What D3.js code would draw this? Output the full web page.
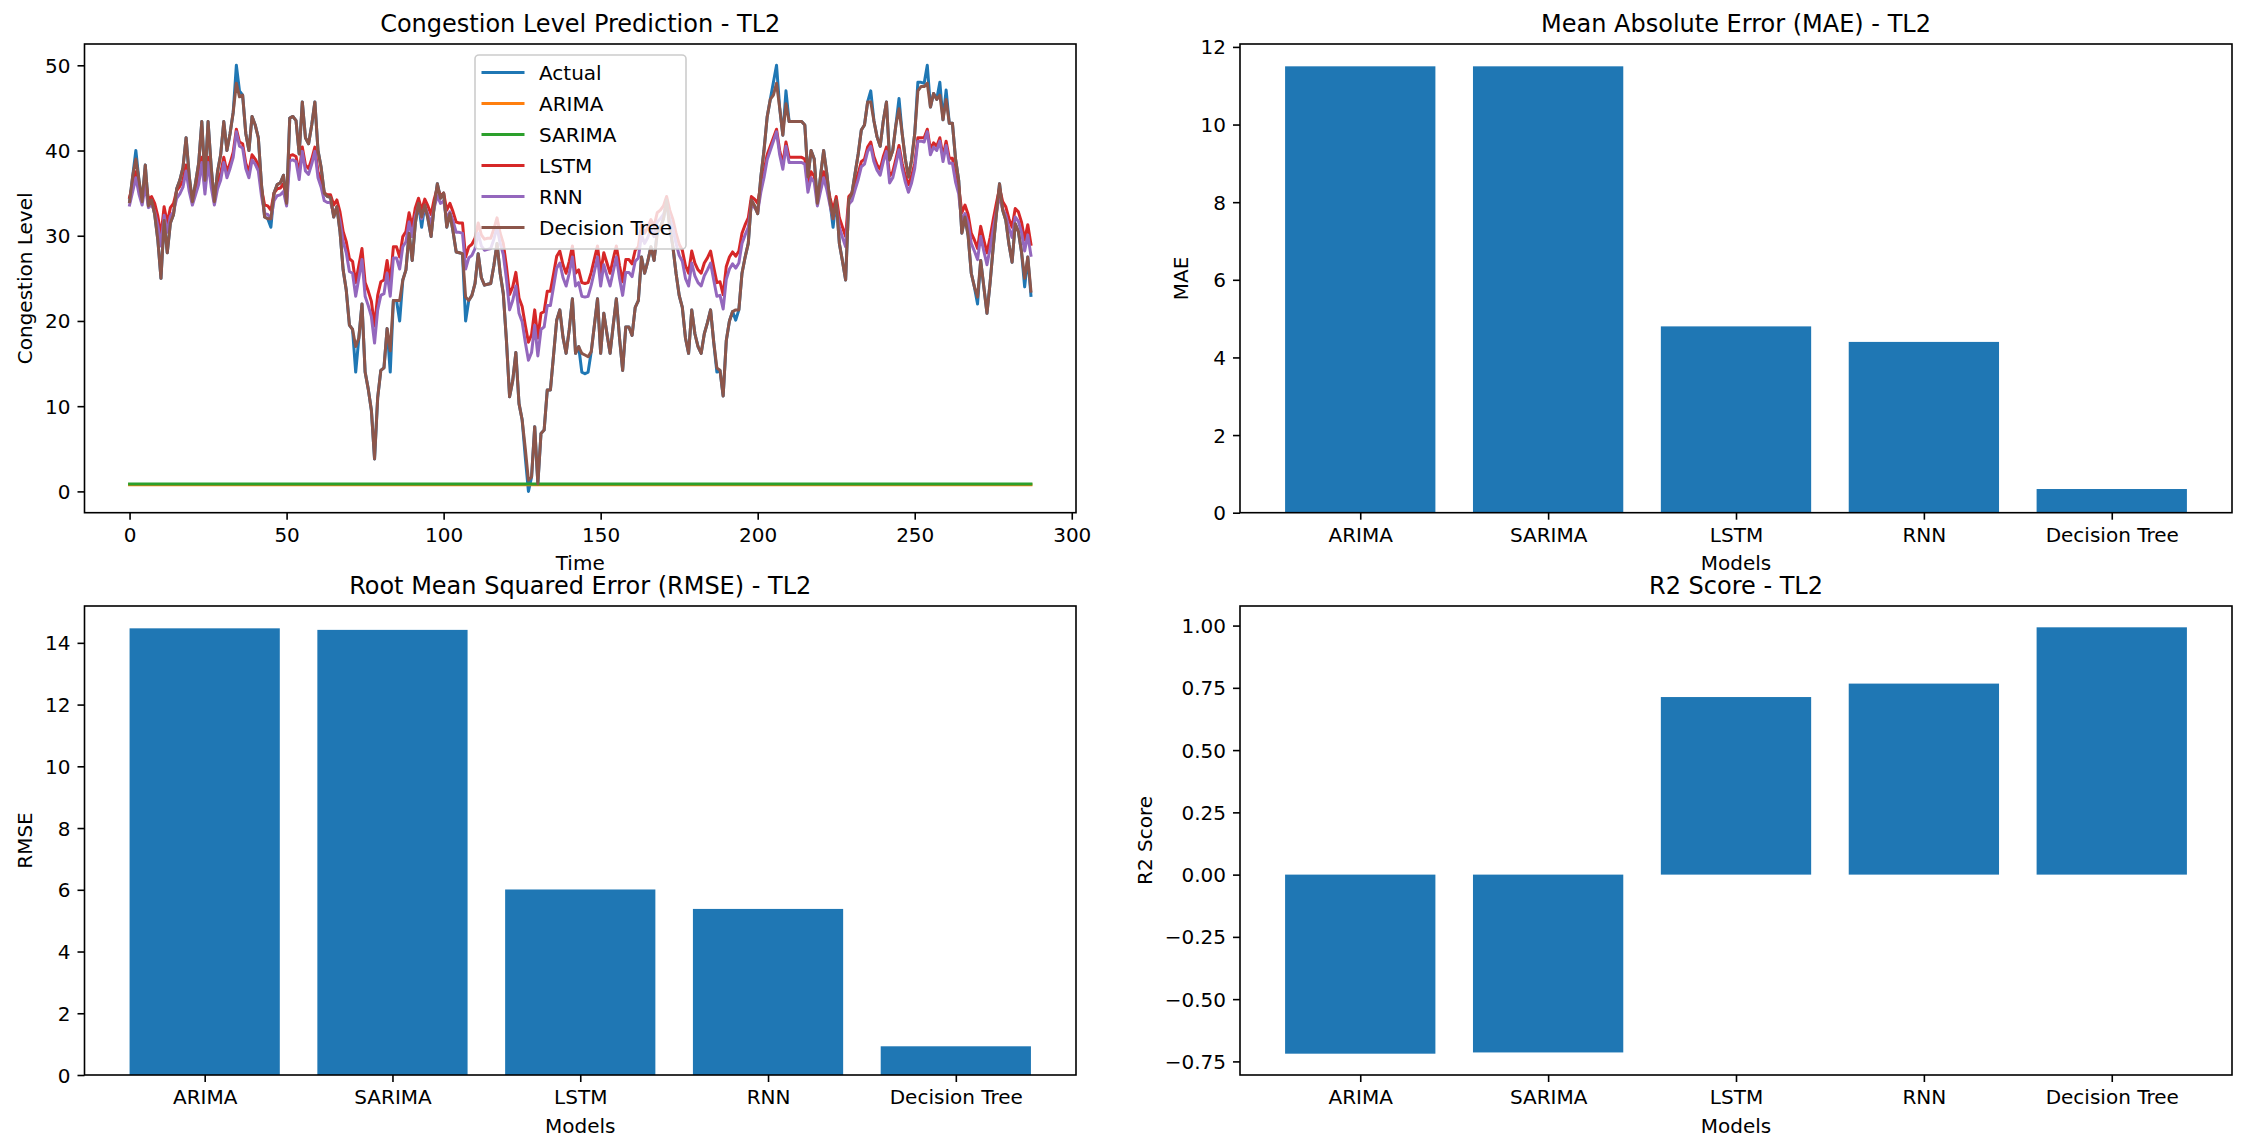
<!DOCTYPE html>
<html><head><meta charset="utf-8">
<script src="https://cdn.jsdelivr.net/npm/d3@7/dist/d3.min.js"></script>
<style>body{margin:0;background:#fff}svg{display:block}text{font-family:"DejaVu Sans",sans-serif;fill:#000}</style>
</head><body><svg id="c" width="2246" height="1148"></svg>
<script>
// ---------------- DATA ----------------
const seriesNames = ["Actual","ARIMA","SARIMA","LSTM","RNN","Decision Tree"];
const seriesColors = ["#1f77b4","#ff7f0e","#2ca02c","#d62728","#9467bd","#8c564b"];
const models = ["ARIMA","SARIMA","LSTM","RNN","Decision Tree"];

const actual = [34,37,40,36.5,34,38.3,33.5,34.2,32.5,29.5,
25,31.8,28,31.5,32.5,35.5,36.5,38,41.5,37,
34,36.2,38.5,43.4,36.5,43.4,38,34,37.5,39.5,
43.4,40,42,44.5,50,47,46.5,42,40,44,
43,41.5,36,32.2,32,31,35,36,36.2,37.1,
33.8,43.8,44,43.5,39.6,45.7,41.5,40.8,43,45.7,
40,38,35,34.6,34.5,32.2,33.4,30.5,26,23.6,
19.5,19,14,18,22,14,12,9.5,3.8,11,
14.2,14.5,19.1,14,22.4,22.4,20,24.8,26,30.3,
27.1,31.5,33.8,31,33.6,32,29.9,33.5,36.1,34.4,
35,31,32.6,30.5,28.1,28,27.9,20,22.4,23,
24.4,27.9,25.1,24.2,24.3,24.4,26.5,29.1,25.6,23.2,
17.7,11.1,13,16.3,10.3,8.4,4,0,1.7,7.6,
0.9,6.8,7.2,11.9,11.9,16,20.1,21.3,18.1,16.2,
19,22.6,16.2,17,14,13.8,14,16.4,19.5,22.6,
16.2,20.9,18.5,16.2,19.5,22.6,18,14.2,19.3,19.3,
18.3,21.6,22.4,27.5,25.6,27,28.7,27.1,30.3,31,
32,34.2,31,28.7,25.6,23,21.6,18,16.2,21.3,
18.5,17,16.2,18.5,19.8,21.3,17.5,14,14.2,11.2,
17.7,20,21.1,20.1,21.3,25.6,27.5,29.1,34.2,33.5,
32.6,36.9,40,43.9,46,48,50,45,41.8,47,
43.4,43.4,43.4,43.4,43.4,43,36.9,40,39,33.8,
37,40,37.3,34,31,34.2,29.1,27,24.8,34.2,
35,37.3,39.6,42.4,43,45.7,47,43.5,41.6,40.5,
43.5,45.7,38.9,40,43,46.1,42,39,36.9,38.9,
42,48,48,47.9,50,45.1,46.7,46,48,43.6,
47.1,43.2,43.2,39,36.5,30.3,32.2,30,25.6,24,
22,27.1,24,20.9,24.5,28.7,32.5,36.1,33,31.8,
29,26.9,31.4,30.5,28.1,24,27.5,23];

const decisionTree = [34,37,39,36.5,34,38.3,33.5,34.2,32.5,29.5,
25,31.8,28,31.5,32.5,35.5,36.5,38,41.5,37,
34,36.2,38.5,43.4,36.5,43.4,38,34,37.5,39.5,
43.4,40,42,44.5,47.9,46.3,46.5,42,40,44,
43,41.5,36,32.2,32,32,35,36,36.2,37.1,
33.8,43.8,44,43.5,39.6,45.7,41.5,40.8,43,45.7,
40,38,35,34.6,34.5,32.2,33.4,30.5,26,23.6,
19.5,19,17,18,22,14,12,9.5,3.8,11,
14.2,14.5,19.1,16.5,22.4,22.4,22.4,24.8,26,30.3,
27.1,31.5,33.8,32.2,33.6,32,29.9,33.5,36.1,34.4,
35,31,32.6,30.5,28.1,28,27.9,22.8,22.4,23,
24.4,27.9,25.1,24.2,24.3,24.4,26.5,29.1,25.6,23.2,
17.7,11.1,13,16.3,10.3,8.4,5,1.3,1.7,7.6,
0.9,6.8,7.2,11.9,11.9,16,20.1,21.3,18.1,16.2,
19,22.6,16.2,17,16.2,16,15.8,16.4,19.5,22.6,
16.2,20.9,18.5,16.2,19.5,22.6,18,14.2,19.3,19.3,
18.3,21.6,22.4,27.5,25.6,27,28.7,27.1,30.3,31,
32,34.2,31,28.7,25.6,23,21.6,18,16.2,21.3,
18.5,17,16.2,18.5,19.8,21.3,17.5,14.5,14.2,11.2,
17.7,20,21.1,21.3,21.3,25.6,27.5,29.1,34.2,33.5,
32.6,36.9,40,43.9,46,46.5,47.9,45,41.8,45.5,
43.4,43.4,43.4,43.4,43.4,43,36.9,40,39,33.8,
37,40,37.3,34,32,34.2,29.1,27,24.8,34.2,
35,37.3,39.6,42.4,43,45.7,45.7,43.5,41.6,40.5,
43.5,45.7,38.9,40,43,44.9,42,39,36.9,38.9,
42,47,47.5,47.5,47.9,45.1,46.7,46,46.5,43.6,
46,43.2,43.2,39,36.5,30.3,32.2,30,25.6,24,
22.8,27.1,24,20.9,24.5,28.7,32.5,36.1,33,31.8,
29,26.9,31.4,30.5,28.1,25,27.5,23.5];

const lstm = [34.5,36.0,37.5,35.8,34.5,36.7,34.3,34.6,33.8,32.3,
30.0,33.4,31.5,33.3,33.8,35.3,35.8,36.5,38.3,36.0,
34.5,35.6,36.8,39.2,35.8,39.2,36.5,34.5,36.3,37.3,
39.2,37.5,38.5,39.8,42.5,41.0,40.8,38.5,37.5,39.5,
39.0,38.3,35.5,33.6,33.5,33.0,35.0,35.5,35.6,36.1,
34.4,39.4,39.5,39.3,37.3,40.4,38.3,37.9,39.0,40.4,
37.5,36.5,35.0,34.8,34.8,33.6,34.2,32.8,30.5,29.3,
27.3,27.0,24.5,26.5,28.5,24.5,23.5,22.3,19.4,23.0,
24.6,24.8,27.1,24.5,28.7,28.7,27.5,29.9,30.5,32.7,
31.1,33.3,34.4,33.0,34.3,33.5,32.5,34.3,35.6,34.7,
35.0,33.0,33.8,32.8,31.6,31.5,31.5,27.5,28.7,29.0,
29.7,31.5,30.1,29.6,29.7,29.7,30.8,32.1,30.3,29.1,
26.4,23.1,24.0,25.7,22.7,21.7,19.5,17.5,18.4,21.3,
18.0,20.9,21.1,23.5,23.5,25.5,27.6,28.2,26.6,25.6,
27.0,28.8,25.6,26.0,24.5,24.4,24.5,25.7,27.3,28.8,
25.6,28.0,26.8,25.6,27.3,28.8,26.5,24.6,27.2,27.2,
26.7,28.3,28.7,31.3,30.3,31.0,31.9,31.1,32.7,33.0,
33.5,34.6,33.0,31.9,30.3,29.0,28.3,26.5,25.6,28.2,
26.8,26.0,25.6,26.8,27.4,28.2,26.3,24.5,24.6,23.1,
26.4,27.5,28.1,27.6,28.2,30.3,31.3,32.1,34.6,34.3,
33.8,36.0,37.5,39.5,40.5,41.5,42.5,40.0,38.4,41.0,
39.2,39.2,39.2,39.2,39.2,39.0,36.0,37.5,37.0,34.4,
36.0,37.5,36.2,34.5,33.0,34.6,32.1,31.0,29.9,34.6,
35.0,36.2,37.3,38.7,39.0,40.4,41.0,39.3,38.3,37.8,
39.3,40.4,37.0,37.5,39.0,40.6,38.5,37.0,36.0,37.0,
38.5,41.5,41.5,41.5,42.5,40.1,40.9,40.5,41.5,39.3,
41.1,39.1,39.1,37.0,35.8,32.7,33.6,32.5,30.3,29.5,
28.5,31.1,29.5,28.0,29.8,31.9,33.8,35.6,34.0,33.4,
32.0,31.0,33.2,32.8,31.6,29.5,31.3,29.0];

const rnn = [33.6,35.2,36.8,34.9,33.6,35.9,33.3,33.7,32.8,31.2,
28.8,32.4,30.4,32.3,32.8,34.4,34.9,35.7,37.6,35.2,
33.6,34.8,36.0,38.6,34.9,38.6,35.7,33.6,35.5,36.5,
38.6,36.8,37.9,39.2,42.2,40.5,40.3,37.9,36.8,38.9,
38.4,37.6,34.7,32.6,32.5,32.0,34.1,34.7,34.8,35.2,
33.5,38.8,38.9,38.7,36.6,39.9,37.6,37.2,38.4,39.9,
36.8,35.7,34.1,33.9,33.9,32.6,33.3,31.7,29.3,28.0,
25.8,25.6,22.9,25.0,27.2,22.9,21.8,20.5,17.4,21.3,
23.0,23.2,25.6,22.9,27.4,27.4,26.1,28.7,29.3,31.6,
29.9,32.3,33.5,32.0,33.4,32.5,31.4,33.3,34.7,33.8,
34.1,32.0,32.8,31.7,30.4,30.4,30.3,26.1,27.4,27.7,
28.5,30.3,28.8,28.3,28.4,28.5,29.6,31.0,29.1,27.8,
24.9,21.3,22.4,24.1,20.9,19.9,17.5,15.4,16.3,19.5,
15.9,19.0,19.3,21.8,21.8,24.0,26.2,26.8,25.1,24.1,
25.6,27.5,24.1,24.5,22.9,22.8,22.9,24.2,25.8,27.5,
24.1,26.6,25.3,24.1,25.8,27.5,25.0,23.0,25.7,25.7,
25.2,27.0,27.4,30.1,29.1,29.8,30.8,29.9,31.6,32.0,
32.5,33.7,32.0,30.8,29.1,27.7,27.0,25.0,24.1,26.8,
25.3,24.5,24.1,25.3,26.0,26.8,24.8,22.9,23.0,21.4,
24.9,26.1,26.7,26.2,26.8,29.1,30.1,31.0,33.7,33.3,
32.8,35.1,36.8,38.9,40.0,41.1,42.2,39.5,37.8,40.5,
38.6,38.6,38.6,38.6,38.6,38.4,35.1,36.8,36.3,33.5,
35.2,36.8,35.4,33.6,32.0,33.7,31.0,29.8,28.7,33.7,
34.1,35.4,36.6,38.1,38.4,39.9,40.5,38.7,37.7,37.1,
38.7,39.9,36.2,36.8,38.4,40.1,37.9,36.3,35.1,36.2,
37.9,41.1,41.1,41.0,42.2,39.5,40.4,40.0,41.1,38.7,
40.6,38.5,38.5,36.3,34.9,31.6,32.6,31.5,29.1,28.2,
27.2,29.9,28.2,26.6,28.5,30.8,32.8,34.7,33.1,32.4,
30.9,29.8,32.2,31.7,30.4,28.2,30.1,27.7];

// ARIMA and SARIMA forecasts are flat lines in the picture
const arimaLevel = 0.78;
const sarimaLevel = 0.86;
const arima = new Array(actual.length).fill(arimaLevel);
const sarima = new Array(actual.length).fill(sarimaLevel);

const maeValues  = [11.5, 11.5, 4.8, 4.4, 0.61];
const rmseValues = [14.47, 14.42, 6.01, 5.38, 0.93];
const r2Values   = [-0.719, -0.714, 0.713, 0.767, 0.993];

const timeTicks = [0,50,100,150,200,250,300];
const congTicks = [0,10,20,30,40,50];
const maeTicks  = [0,2,4,6,8,10,12];
const rmseTicks = [0,2,4,6,8,10,12,14];
const r2Ticks   = [-0.75,-0.5,-0.25,0,0.25,0.5,0.75,1.0];

// ---------------- LAYOUT ----------------
const FONT = '"DejaVu Sans", sans-serif';
const svg = d3.select("#c");
svg.append("rect").attr("width",2246).attr("height",1148).attr("fill","#fff");

const P1 = {l:84.5, r:1076, t:44, b:512.7};
const P2 = {l:1240, r:2232, t:44, b:512.7};
const P3 = {l:84.5, r:1076, t:606, b:1075};
const P4 = {l:1240, r:2232, t:606, b:1075};

function drawAxes(p, x, y, xTicks, xFmt, yTicks, yFmt, title, xlabel, ylabel) {
  const gx = svg.append("g").attr("transform", `translate(0,${p.b})`)
    .call(d3.axisBottom(x).tickValues(xTicks).tickFormat(xFmt).tickSize(7).tickPadding(7).tickSizeOuter(0));
  gx.select(".domain").remove();
  gx.selectAll(".tick line").attr("stroke","#000").attr("stroke-width",1.6);
  gx.selectAll(".tick text").attr("font-size",20).attr("font-family",FONT).attr("fill","#000")
    .attr("y",14).attr("dy",15.3);
  const gy = svg.append("g").attr("transform", `translate(${p.l},0)`)
    .call(d3.axisLeft(y).tickValues(yTicks).tickFormat(yFmt).tickSize(7).tickPadding(7).tickSizeOuter(0));
  gy.select(".domain").remove();
  gy.selectAll(".tick line").attr("stroke","#000").attr("stroke-width",1.6);
  gy.selectAll(".tick text").attr("font-size",20).attr("font-family",FONT).attr("fill","#000")
    .attr("x",-14).attr("dy",7);
  const maxW = d3.max(gy.selectAll(".tick text").nodes(), n => n.getComputedTextLength());
  // frame
  svg.append("rect").attr("x",p.l).attr("y",p.t).attr("width",p.r-p.l).attr("height",p.b-p.t)
    .attr("fill","none").attr("stroke","#000").attr("stroke-width",1.6);
  // title
  svg.append("text").attr("x",(p.l+p.r)/2).attr("y",p.t-12).attr("text-anchor","middle")
    .attr("font-size",24).text(title);
  // x label
  svg.append("text").attr("x",(p.l+p.r)/2).attr("y",p.b+57.5).attr("text-anchor","middle")
    .attr("font-size",20).text(xlabel);
  // y label
  const bx = p.l - 14 - maxW - 8 - 4.7;
  svg.append("text").attr("transform",`translate(${bx},${(p.t+p.b)/2}) rotate(-90)`)
    .attr("text-anchor","middle").attr("font-size",20).text(ylabel);
}

// ---------- Panel 1: line chart ----------
{
  const n = actual.length;
  const x = d3.scaleLinear().domain([-(n-1)*0.05, (n-1)*1.05]).range([P1.l, P1.r]);
  const yMin = d3.min([d3.min(actual), d3.min(arima), d3.min(sarima), d3.min(lstm), d3.min(rnn), d3.min(decisionTree)]);
  const yMax = d3.max([d3.max(actual), d3.max(lstm), d3.max(rnn), d3.max(decisionTree)]);
  const pad = (yMax-yMin)*0.05;
  const y = d3.scaleLinear().domain([yMin-pad, yMax+pad]).range([P1.b, P1.t]);
  const line = d3.line().x((d,i)=>x(i)).y(d=>y(d));
  const all = [actual, arima, sarima, lstm, rnn, decisionTree];
  const g = svg.append("g");
  all.forEach((s,k)=>{
    g.append("path").attr("d", line(s)).attr("fill","none").attr("stroke",seriesColors[k])
      .attr("stroke-width",3).attr("stroke-linejoin","round").attr("stroke-linecap","square");
  });
  drawAxes(P1, x, y, timeTicks, d3.format("d"), congTicks, d3.format("d"),
    "Congestion Level Prediction - TL2", "Time", "Congestion Level");
  // legend
  const lg = svg.append("g");
  lg.append("rect").attr("x",475).attr("y",55).attr("width",211).attr("height",194).attr("rx",4)
    .attr("fill","#fff").attr("fill-opacity",0.8).attr("stroke","#cccccc").attr("stroke-width",1.6);
  seriesNames.forEach((nm,i)=>{
    const yy = 72.5 + i*31;
    lg.append("line").attr("x1",483).attr("x2",523).attr("y1",yy).attr("y2",yy)
      .attr("stroke",seriesColors[i]).attr("stroke-width",3).attr("stroke-linecap","square");
    lg.append("text").attr("x",539).attr("y",yy+7).attr("font-size",20).text(nm);
  });
}

// ---------- Bar panels ----------
function barPanel(p, values, ticks, fmt, title, ylabel) {
  const x = d3.scaleLinear().domain([-0.64, models.length-1+0.64]).range([p.l, p.r]);
  const lo = Math.min(0, d3.min(values)), hi = Math.max(0, d3.max(values));
  const m = (hi-lo)*0.05;
  const y = d3.scaleLinear().domain([lo<0 ? lo-m : 0, hi>0 ? hi+m : 0]).range([p.b, p.t]);
  svg.append("g").selectAll("rect").data(values).join("rect")
    .attr("x",(d,i)=>x(i-0.4)).attr("width",(d,i)=>x(i+0.4)-x(i-0.4))
    .attr("y",d=>y(Math.max(0,d))).attr("height",d=>Math.abs(y(d)-y(0)))
    .attr("fill","#1f77b4");
  const xs = d3.scaleOrdinal().domain(models).range(models.map((d,i)=>x(i)));
  const xa = Object.assign(v=>xs(v), {ticks:()=>models, domain:()=>models, range:()=>[p.l,p.r], copy:()=>xa, bandwidth:null});
  drawAxes(p, xs, y, models, d=>d, ticks, fmt, title, "Models", ylabel);
}
const r2fmt = v => { const s = d3.format(".2f")(Math.abs(v)); return v < 0 ? "\u2212"+s : s; };
barPanel(P2, maeValues, maeTicks, d3.format("d"), "Mean Absolute Error (MAE) - TL2", "MAE");
barPanel(P3, rmseValues, rmseTicks, d3.format("d"), "Root Mean Squared Error (RMSE) - TL2", "RMSE");
barPanel(P4, r2Values, r2Ticks, r2fmt, "R2 Score - TL2", "R2 Score");
</script></body></html>
